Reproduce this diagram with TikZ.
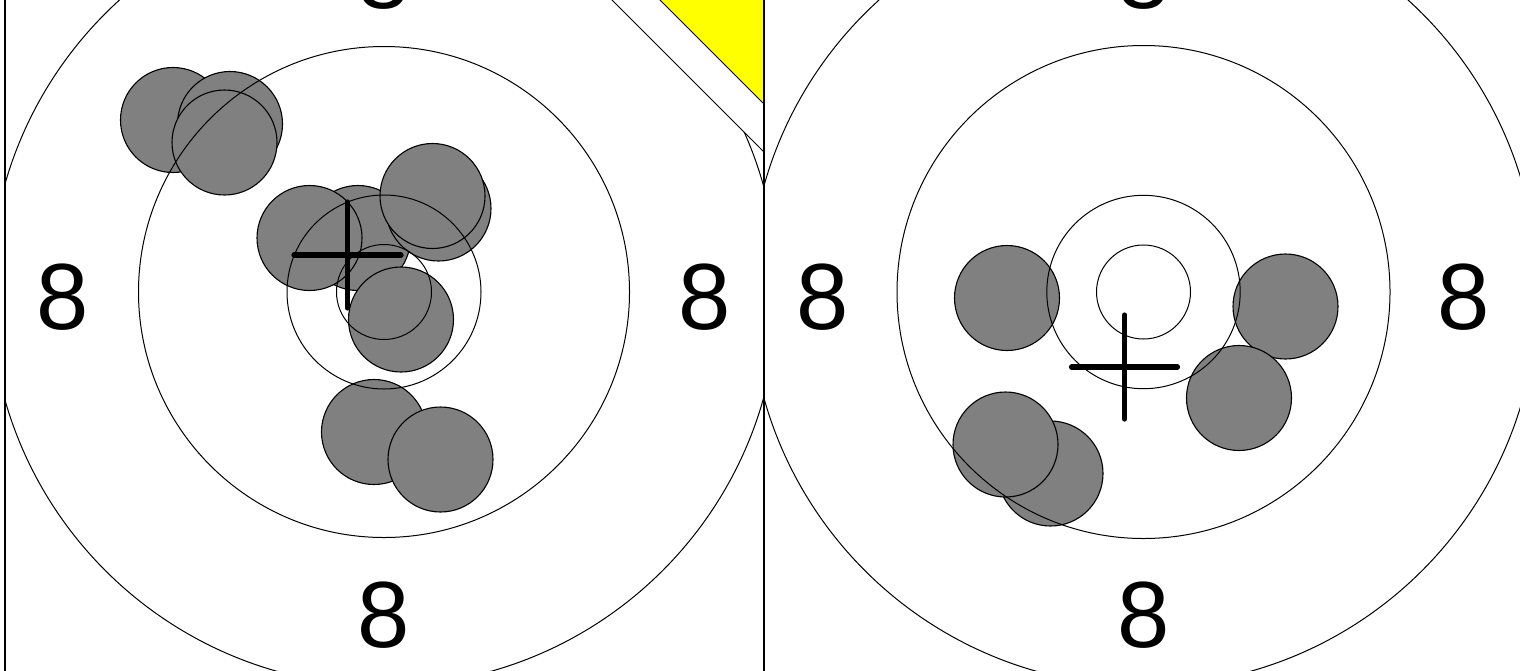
\documentclass[tikz,border=0pt]{standalone}
\usepackage{fontspec}
\setmainfont{Liberation Sans}
\definecolor{shotgray}{HTML}{808080}
\definecolor{corneryellow}{HTML}{FFFF00}
\begin{document}
\begin{tikzpicture}[x=0.5pt,y=-0.5pt,
  shot/.style={fill=shotgray, draw=black, line width=0.55pt},
  ring/.style={draw=black, line width=0.5pt},
  lbl/.style={font=\fontsize{47}{47}\selectfont, inner sep=0pt},
  mpi/.style={draw=black, line width=2.6pt, line cap=round},
  panel/.style={draw=black, line width=0.8pt}]
\useasboundingbox (0,0) rectangle (1520,670);

% ---------- left target ----------
\begin{scope}
\clip (5,-60) rectangle (764,720);
\coordinate (cL) at (384,292);
\draw[shot] (173,120) circle[radius=52.5];
\draw[shot] (230,124) circle[radius=52.5];
\draw[shot] (224.5,142.5) circle[radius=52.5];
\draw[shot] (358,238) circle[radius=52.5];
\draw[shot] (309.5,238) circle[radius=52.5];
\draw[shot] (438.5,208.5) circle[radius=52.5];
\draw[shot] (432.5,196) circle[radius=52.5];
\draw[shot] (401,319.5) circle[radius=52.5];
\draw[shot] (374,432) circle[radius=52.5];
\draw[shot] (440.5,459.5) circle[radius=52.5];
\foreach \r in {47.5,97,245.5,394} \draw[ring] (cL) circle[radius=\r];
\node[lbl] (lw) at (63,297) {8};
\node[lbl] (le) at (705,297) {8};
\node[lbl] (ls) at (384,615) {8};
\node[lbl] (ln) at (384,-24) {8};
\coordinate (mL) at (347.5,255);
\draw[mpi] ([xshift=-26.75pt]mL) -- ([xshift=26.75pt]mL);
\draw[mpi] ([yshift=26.5pt]mL) -- ([yshift=-26.5pt]mL);
\fill[white, draw=black, line width=0.5pt] (552,-60) -- (764,-60) -- (764,152) -- cycle;
\fill[corneryellow, draw=black, line width=0.5pt] (600,-60) -- (764,-60) -- (764,104) -- cycle;
\end{scope}

% ---------- right target ----------
\begin{scope}
\clip (764,-60) rectangle (1522,720);
\coordinate (cR) at (1143.5,292);
\draw[shot] (1007,298) circle[radius=52.5];
\draw[shot] (1285.5,306.5) circle[radius=52.5];
\draw[shot] (1239,398) circle[radius=52.5];
\draw[shot] (1050.5,473.5) circle[radius=52.5];
\draw[shot] (1005.5,444.5) circle[radius=52.5];
\foreach \r in {47,96.7,246.5,394} \draw[ring] (cR) circle[radius=\r];
\node[lbl] (rw) at (822.5,297) {8};
\node[lbl] (re) at (1464,297) {8};
\node[lbl] (rs) at (1143.5,615) {8};
\node[lbl] (rn) at (1143.5,-24) {8};
\coordinate (mR) at (1124.5,367);
\draw[mpi] ([xshift=-26.5pt]mR) -- ([xshift=26.5pt]mR);
\draw[mpi] ([yshift=26pt]mR) -- ([yshift=-26pt]mR);
\end{scope}

\draw[panel] (5,-60) -- (5,720);
\draw[panel] (764,-60) -- (764,720);
\end{tikzpicture}
\end{document}
